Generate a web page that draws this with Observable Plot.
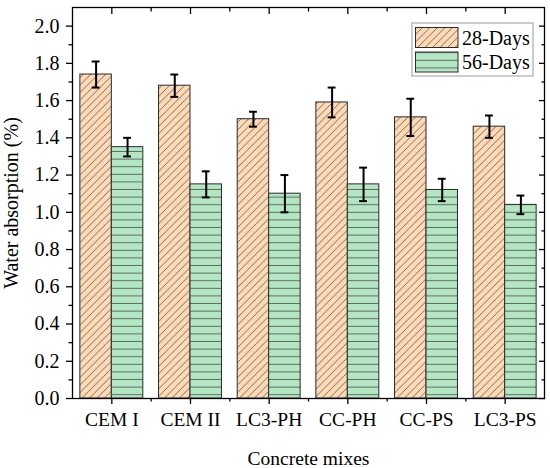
<!DOCTYPE html>
<html><head><meta charset="utf-8">
<script src="https://cdn.jsdelivr.net/npm/d3@7"></script>
<script src="https://cdn.jsdelivr.net/npm/@observablehq/plot@0.6"></script>
<style>
body{margin:0;background:#fff}
#chart{width:550px;height:468px}
</style>
</head><body><div id="chart"></div>
<script>
// ---- data ----
const categories = ["CEM I", "CEM II", "LC3-PH", "CC-PH", "CC-PS", "LC3-PS"];
const series = ["28-Days", "56-Days"];
const values28 = [1.74, 1.68, 1.50, 1.59, 1.51, 1.46];
const errors28 = [0.07, 0.06, 0.04, 0.08, 0.10, 0.06];
const values56 = [1.35, 1.15, 1.10, 1.15, 1.12, 1.04];
const errors56 = [0.05, 0.07, 0.10, 0.09, 0.06, 0.05];
const yTicks = [0, 0.2, 0.4, 0.6, 0.8, 1.0, 1.2, 1.4, 1.6, 1.8, 2.0];
const yMinorTicks = [0.1, 0.3, 0.5, 0.7, 0.9, 1.1, 1.3, 1.5, 1.7, 1.9];

// ---- layout constants (category units) ----
const barW = 0.4;
const capW = 0.05;
const catPos = categories.map((c, i) => i + 1);
const catMinor = categories.slice(1).map((c, i) => i + 1.5);

const rows28 = categories.map((c, i) => ({cat: c, v: values28[i], e: errors28[i], x1: i + 1 - barW, x2: i + 1, cx: i + 1 - barW / 2}));
const rows56 = categories.map((c, i) => ({cat: c, v: values56[i], e: errors56[i], x1: i + 1, x2: i + 1 + barW, cx: i + 1 + barW / 2}));
const allRows = rows28.concat(rows56);

const FONT = "Liberation Serif";
const FS = 20;
const txt = {fontFamily: FONT, fontVariant: "normal"};

const svg = Plot.plot({
  width: 550,
  height: 468,
  marginLeft: 72,
  marginRight: 6,
  marginTop: 7,
  marginBottom: 70,
  style: {fontFamily: FONT, fontSize: FS + "px", color: "black", background: "white"},
  x: {type: "linear", domain: [0.5, 6.5]},
  y: {domain: [0, 2.1]},
  marks: [
    Plot.rectY(rows28, {x1: "x1", x2: "x2", y: "v", fill: "url(#hatch28)", stroke: "#2a2a2a", strokeWidth: 1}),
    Plot.rectY(rows56, {x1: "x1", x2: "x2", y: "v", fill: "url(#hatch56)", stroke: "#2a2a2a", strokeWidth: 1}),
    Plot.ruleX(allRows, {x: "cx", y1: d => d.v - d.e, y2: d => d.v + d.e, stroke: "black", strokeWidth: 2}),
    Plot.ruleY(allRows, {y: d => d.v + d.e, x1: d => d.cx - capW, x2: d => d.cx + capW, stroke: "black", strokeWidth: 2}),
    Plot.ruleY(allRows, {y: d => d.v - d.e, x1: d => d.cx - capW, x2: d => d.cx + capW, stroke: "black", strokeWidth: 2}),
    Plot.frame({stroke: "black", strokeWidth: 1.3}),
    // left axis
    Plot.axisY(yTicks, {anchor: "left", tickSize: 6, tickPadding: 7, strokeWidth: 1.3, tickFormat: d => d.toFixed(1), ...txt, fontSize: 20,
      label: "Water absorption (%)", labelAnchor: "center", labelOffset: 69, labelArrow: "none"}),
    Plot.axisY(yMinorTicks, {anchor: "left", tickSize: 3.5, strokeWidth: 1.3, tickFormat: () => "", label: null}),
    // right axis (inward ticks)
    Plot.axisY(yTicks, {anchor: "right", tickSize: 6, dx: -6, strokeWidth: 1.3, tickFormat: () => "", label: null}),
    Plot.axisY(yMinorTicks, {anchor: "right", tickSize: 3.5, dx: -3.5, strokeWidth: 1.3, tickFormat: () => "", label: null}),
    // bottom axis
    Plot.axisX(catPos, {anchor: "bottom", tickSize: 6, tickPadding: 8, strokeWidth: 1.3, tickFormat: d => categories[d - 1], ...txt, fontSize: 19.5,
      label: "Concrete mixes", labelAnchor: "center", labelOffset: 66, labelArrow: "none"}),
    Plot.axisX(catMinor, {anchor: "bottom", tickSize: 3.5, strokeWidth: 1.3, tickFormat: () => "", label: null}),
    // top axis (inward ticks)
    Plot.axisX(catPos, {anchor: "top", tickSize: 6, dy: 6, strokeWidth: 1.3, tickFormat: () => "", label: null}),
    Plot.axisX(catMinor, {anchor: "top", tickSize: 3.5, dy: 3.5, strokeWidth: 1.3, tickFormat: () => "", label: null})
  ]
});

d3.select(svg).selectAll("text").attr("font-family", FONT).style("font-family", FONT);

// patterns
const defs = d3.select(svg).insert("defs", ":first-child");
const p28 = defs.append("pattern").attr("id", "hatch28").attr("patternUnits", "userSpaceOnUse").attr("width", 7.5).attr("height", 7.5);
p28.append("rect").attr("width", 7.5).attr("height", 7.5).attr("fill", "#FDD9B5");
p28.append("path").attr("d", "M0,7.5 L7.5,0 M-1,1 L1,-1 M6.5,8.5 L8.5,6.5").attr("stroke", "#6e625a").attr("stroke-width", 0.9);
const p56 = defs.append("pattern").attr("id", "hatch56").attr("patternUnits", "userSpaceOnUse").attr("width", 8).attr("height", 7.6);
p56.append("rect").attr("width", 8).attr("height", 7.6).attr("fill", "#B5E6C4");
p56.append("path").attr("d", "M0,7.1 L8,7.1").attr("stroke", "#5d6e63").attr("stroke-width", 1);

// legend (inside plot, top right)
const lg = d3.select(svg).append("g").attr("font-family", FONT).attr("font-size", 20).attr("text-anchor", "start");
lg.append("rect").attr("x", 412).attr("y", 23).attr("width", 121).attr("height", 53).attr("fill", "white").attr("stroke", "#9a9a9a");
series.forEach((s, i) => {
  lg.append("rect").attr("x", 415.5).attr("y", 27.5 + i * 24.5).attr("width", 42.5).attr("height", 20)
    .attr("fill", i === 0 ? "url(#hatch28)" : "url(#hatch56)").attr("stroke", "#2a2a2a");
  lg.append("text").attr("x", 462).attr("y", 44.5 + i * 24.5).attr("fill", "black").attr("text-anchor", "start").text(s);
});

document.getElementById("chart").appendChild(svg);
</script>
</body></html>
